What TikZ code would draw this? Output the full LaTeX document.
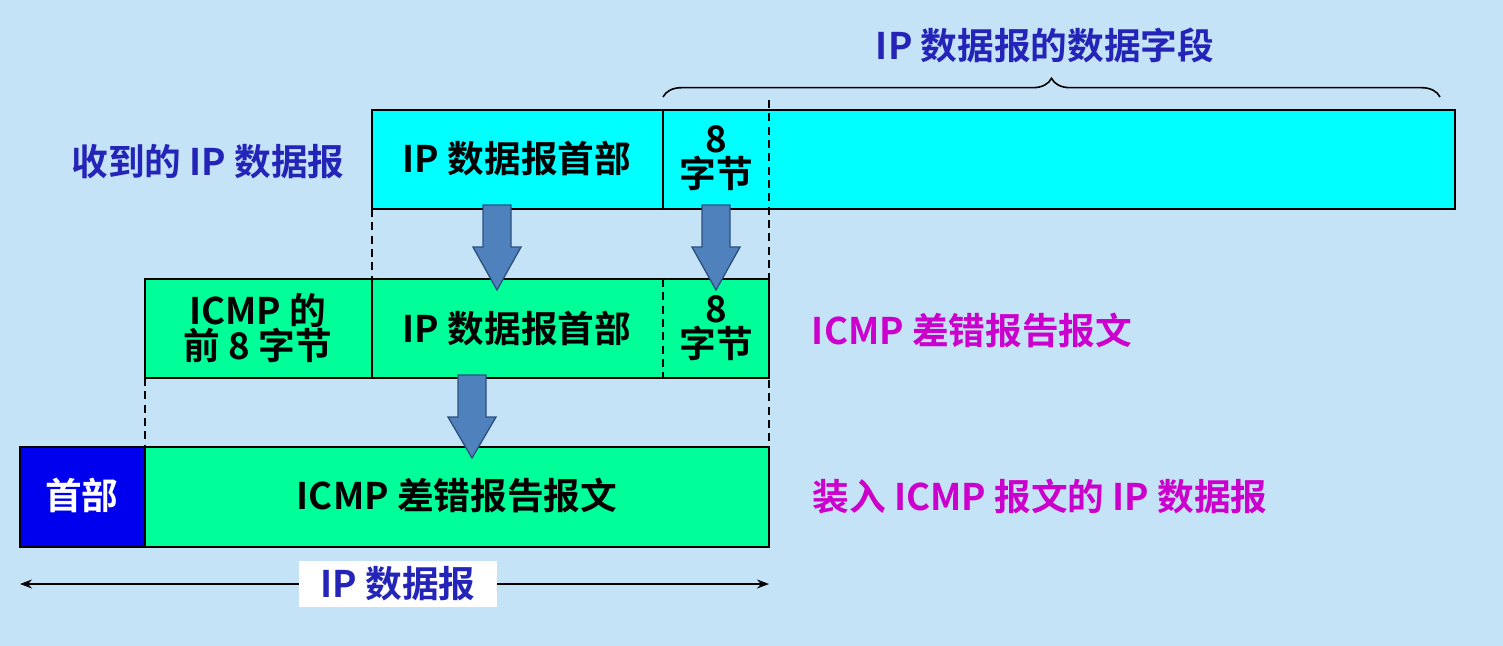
\documentclass[tikz,border=0pt]{standalone}
\usepackage{fontspec}
\setmainfont{Noto Sans CJK SC}[BoldFont={Noto Sans CJK SC Bold}]
\usetikzlibrary{decorations.pathreplacing,arrows.meta}
\definecolor{bg}{HTML}{C5E3F6}
\definecolor{cy}{HTML}{00FFFF}
\definecolor{gr}{HTML}{00FF99}
\definecolor{hb}{HTML}{0000EE}
\definecolor{lb}{HTML}{2424B8}
\definecolor{mg}{HTML}{CC00CC}
\definecolor{ab}{HTML}{4F81BD}
\definecolor{abd}{HTML}{2F4F7F}
\begin{document}
\begin{tikzpicture}[x=0.75pt,y=-0.75pt,
  txt/.style={font=\fontsize{27.5}{26}\selectfont\bfseries,align=center},
  box/.style={draw=black,line width=2.2pt},
  dsh/.style={dash pattern=on 6pt off 4pt,line width=1pt},
  blk/.style={fill=ab,draw=abd,line width=1pt}]
\fill[bg] (0,0) rectangle (1503,646);
\useasboundingbox (0,0) rectangle (1503,646);
% top
\draw[box,fill=cy] (372,110) rectangle (1455,209);
\draw[line width=1.2pt] (663,110) -- (663,209);
\node[txt] (t1) at (517,158) {IP 数据报首部};
\node[txt] (t2) at (716,158) {8\\字节};
\node[txt,text=lb] (l1) at (208,162) {收到的 IP 数据报};
\draw[decorate,decoration={brace,amplitude=14pt},line width=1.2pt] (663,97) -- (1440,97);
\node[txt,text=lb] (l0) at (1045,45) {IP 数据报的数据字段};
% middle
\draw[box,fill=gr] (145,279) rectangle (769,378);
\draw[line width=1.2pt] (372,279) -- (372,378);
\draw[dsh] (663,279) -- (663,378);
\node[txt] (m1) at (258,328) {ICMP 的\\前 8 字节};
\node[txt] (m2) at (517,328) {IP 数据报首部};
\node[txt] (m3) at (716,328) {8\\字节};
\node[txt,text=mg] (l2) at (972,330) {ICMP 差错报告报文};
% bottom
\draw[box,fill=hb] (20,447) rectangle (145,547);
\draw[box,fill=gr] (145,447) rectangle (769,547);
\node[txt,text=white] (b1) at (82,495) {首部};
\node[txt] (b2) at (457,495) {ICMP 差错报告报文};
\node[txt,text=mg] (l3) at (1040,497) {装入 ICMP 报文的 IP 数据报};
% dashed guides
\draw[dsh] (769,100) -- (769,447);
\draw[dsh] (372,209) -- (372,279);
\draw[dsh] (145,378) -- (145,447);
% block arrows
\foreach \x/\a/\b in {497/205/290, 716/205/290, 472/375/458}{
  \draw[blk] (\x-14,\a) -- (\x+14,\a) -- (\x+14,\a+42) -- (\x+24,\a+42) -- (\x,\b) -- (\x-24,\a+42) -- (\x-14,\a+42) -- cycle;}
% bottom dimension
\coordinate (d1) at (20,584); \coordinate (d2) at (769,584);
\draw[{Stealth[length=9pt]}-{Stealth[length=9pt]},line width=1pt] (d1) -- (d2);
\node[fill=white,minimum width=149pt,minimum height=35pt,txt,text=lb] (ip) at (398,584) {IP 数据报};
\end{tikzpicture}
\end{document}
